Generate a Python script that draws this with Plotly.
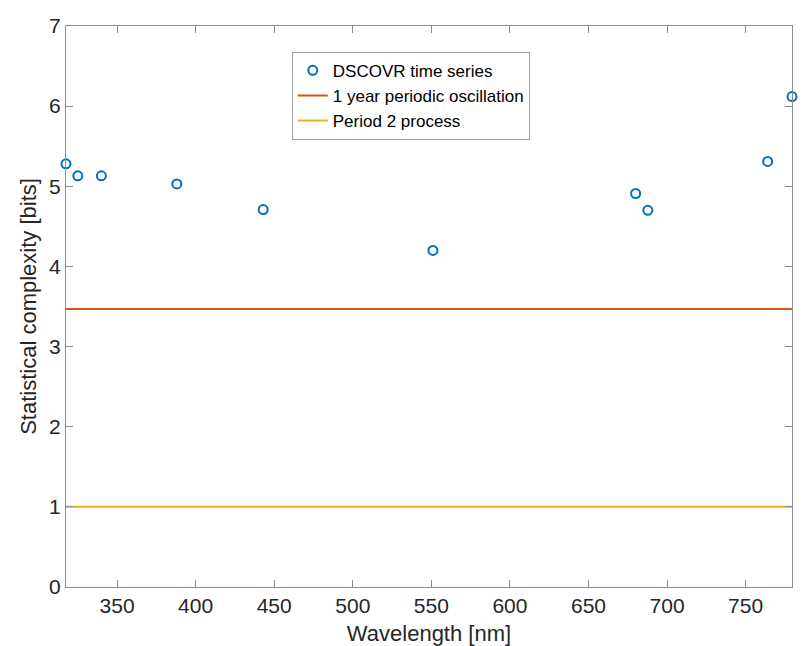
import plotly.graph_objects as go

wavelengths = [317.5, 325.0, 340.0, 388.0, 443.0, 551.0, 680.0, 687.75, 764.0, 779.5]
complexity = [5.28, 5.13, 5.13, 5.03, 4.71, 4.20, 4.91, 4.70, 5.31, 6.12]
oscillation_level = 3.47
period2_level = 1.0
x_ticks = [350, 400, 450, 500, 550, 600, 650, 700, 750]
y_ticks = [0, 1, 2, 3, 4, 5, 6, 7]

xmin, xmax = min(wavelengths), max(wavelengths)

fig = go.Figure()
fig.add_trace(go.Scatter(
    x=wavelengths, y=complexity, mode="markers", name="DSCOVR time series",
    marker=dict(symbol="circle-open", size=9, color="#0072BD", line=dict(width=2, color="#0072BD")),
    cliponaxis=False,
))
fig.add_trace(go.Scatter(
    x=[xmin, xmax], y=[oscillation_level, oscillation_level], mode="lines",
    name="1 year periodic oscillation", line=dict(color="#D95319", width=2),
))
fig.add_trace(go.Scatter(
    x=[xmin, xmax], y=[period2_level, period2_level], mode="lines",
    name="Period 2 process", line=dict(color="#EDB120", width=2),
))

axis_common = dict(
    showgrid=False, zeroline=False, showline=True, linecolor="#8c8c8c", linewidth=1,
    mirror="ticks", ticks="inside", ticklen=7, tickcolor="#8c8c8c", tickwidth=1,
    tickfont=dict(family="Liberation Sans, Arial, sans-serif", size=21, color="#262626"),
    automargin=False,
)

fig.update_layout(
    width=792, height=638,
    margin=dict(l=58, r=8, t=18, b=59),
    paper_bgcolor="white", plot_bgcolor="white",
    font=dict(family="Liberation Sans, Arial, sans-serif", color="#262626"),
    xaxis=dict(range=[xmin, xmax], tickvals=x_ticks,
               title=dict(text="Wavelength [nm]", font=dict(size=22, color="#262626"), standoff=14),
               **axis_common),
    yaxis=dict(range=[0, 7], tickvals=y_ticks,
               title=dict(text="Statistical complexity [bits]", font=dict(size=22, color="#262626"), standoff=6),
               **axis_common),
    legend=dict(x=0.311, y=0.954, xanchor="left", yanchor="top",
                bgcolor="white", bordercolor="#a0a0a0", borderwidth=1,
                font=dict(size=17, color="#000000"), itemwidth=30, tracegroupgap=0),
    showlegend=True,
)

fig.write_html("out.html")
